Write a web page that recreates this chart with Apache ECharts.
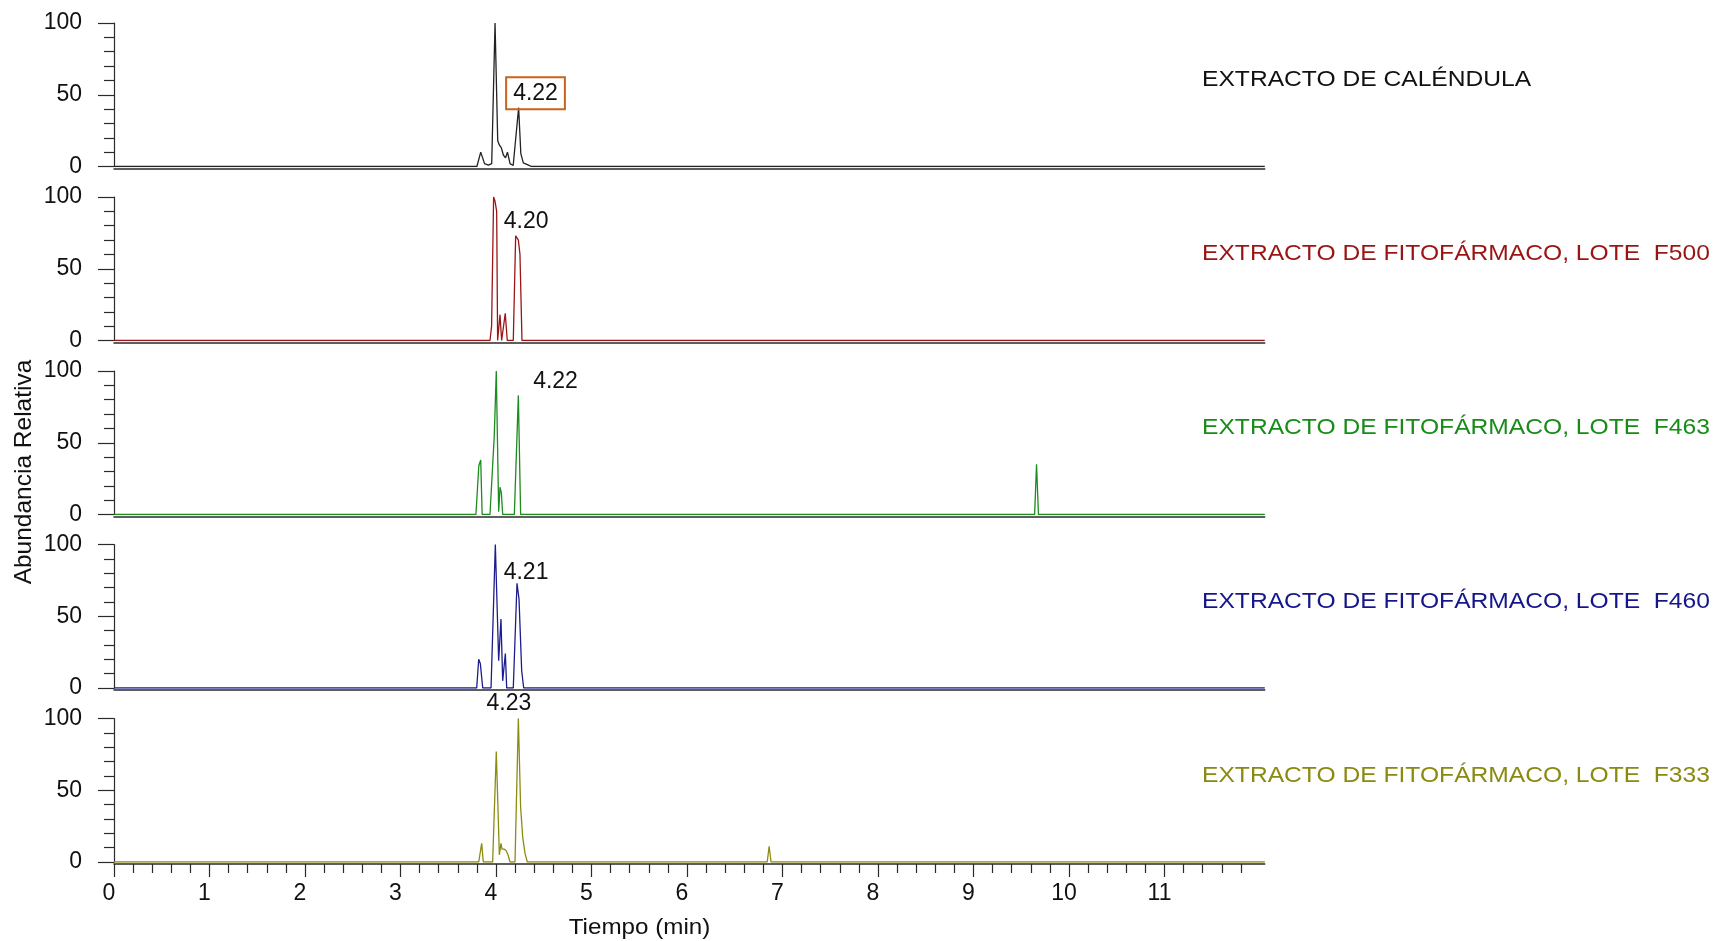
<!DOCTYPE html>
<html>
<head>
<meta charset="utf-8">
<script src="https://cdn.jsdelivr.net/npm/echarts@6/dist/echarts.min.js"></script>
<style>
html,body{margin:0;padding:0;background:#ffffff;}
#chart{width:1717px;height:941px;}
</style>
</head>
<body>
<div id="chart"></div>
<script>
// ---------------- DATA ----------------
const sampleNames = [
  'EXTRACTO DE CALÉNDULA',
  'EXTRACTO DE FITOFÁRMACO, LOTE  F500',
  'EXTRACTO DE FITOFÁRMACO, LOTE  F463',
  'EXTRACTO DE FITOFÁRMACO, LOTE  F460',
  'EXTRACTO DE FITOFÁRMACO, LOTE  F333'
];
// [tiempo (min), abundancia relativa (%)]
const calendula = [[0,0],[3.80,0],[3.84,10],[3.88,2],[3.92,1],[3.955,2],[3.99,100],[4.018,18],[4.035,15],[4.056,13],[4.077,8],[4.10,6],[4.12,10],[4.147,2],[4.18,0.7],[4.237,41],[4.26,9],[4.286,2.5],[4.34,1],[4.37,0],[12.05,0]];
const loteF500 = [[0,0],[3.937,0],[3.954,10],[3.975,100],[3.99,97],[4.007,90],[4.017,0],[4.042,18],[4.059,0],[4.097,19],[4.118,0],[4.181,0],[4.206,73],[4.22,72],[4.234,70],[4.251,60],[4.272,0],[12.05,0]];
const loteF463 = [[0,0],[3.79,0],[3.82,34],[3.84,38],[3.855,0],[3.937,0],[3.982,55],[4.003,100],[4.028,2],[4.042,19],[4.056,15],[4.07,0],[4.192,0],[4.234,83],[4.258,0],[9.64,0],[9.66,35],[9.68,0],[12.05,0]];
const loteF460 = [[0,0],[3.798,0],[3.819,20],[3.836,17],[3.861,0],[3.948,0],[3.993,100],[4.028,19],[4.052,48],[4.07,5],[4.098,24],[4.112,0],[4.181,0],[4.22,73],[4.241,62],[4.269,12],[4.29,0],[12.05,0]];
const loteF333 = [[0,0],[3.819,0],[3.85,13],[3.867,0],[3.965,0],[4.003,77],[4.035,5],[4.052,13],[4.063,9],[4.084,9],[4.105,8],[4.126,5],[4.147,0],[4.199,0],[4.234,100],[4.258,38],[4.28,17],[4.304,6],[4.328,0],[6.84,0],[6.86,11],[6.88,0],[12.05,0]];
const peakRT = [4.22, 4.20, 4.22, 4.21, 4.23];
const peakHeight = [41, 73, 83, 73, 100];
const xTickValues = [0, 1, 2, 3, 4, 5, 6, 7, 8, 9, 10, 11];
const xAxisTitle = 'Tiempo (min)';
const yAxisTitle = 'Abundancia Relativa';

// ---------------- STYLE / LAYOUT ----------------
const traces = [calendula, loteF500, loteF463, loteF460, loteF333];
const FONT = '"Liberation Sans", Arial, sans-serif';
const traceColors = ['#222222', '#9a1616', '#1c8c1c', '#1c1c8c', '#8c8c12'];
const nameColors  = ['#111111', '#9a1414', '#188c18', '#16168c', '#8a8a10'];
const AX = '#2a2a2a';
const tops = [23, 197, 371, 544.5, 718.5];
const H = 143.5, LEFT = 114, PXMIN = 95.5, XMAX = 12.05;
const W = PXMIN * XMAX;
const labelOffsets = [[18.5,-14.4],[11,-14],[38.5,-14],[10,-11],[-9,-14.6]];

const grids = tops.map(t => ({left: LEFT, top: t, width: W, height: H, containLabel: false}));

const xAxes = tops.map((t, i) => ({
  gridIndex: i, type: 'value', min: 0, max: XMAX, interval: 1, offset: 2,
  axisLine: {show: true, onZero: false, lineStyle: {color: AX, width: 1.5}},
  axisTick: {show: i === 4, length: 13, customValues: xTickValues, lineStyle: {color: AX, width: 1.2}},
  minorTick: {show: i === 4, splitNumber: 5, length: 9, lineStyle: {color: AX, width: 1.2}},
  axisLabel: {show: i === 4, fontSize: 23, fontFamily: FONT, color: '#111', margin: 18,
              customValues: xTickValues, showMaxLabel: true, padding: [0, 10, 0, 0]},
  splitLine: {show: false}
}));

const yAxes = tops.map((t, i) => ({
  gridIndex: i, type: 'value', min: 0, max: 100, interval: 50,
  axisLine: {show: true, lineStyle: {color: AX, width: 1.2}},
  axisTick: {show: true, length: 16, lineStyle: {color: AX, width: 1.2}},
  minorTick: {show: true, splitNumber: 5, length: 10, lineStyle: {color: AX, width: 1.2}},
  axisLabel: {fontSize: 23, fontFamily: FONT, color: '#111', margin: 32},
  splitLine: {show: false}
}));

const series = traces.map((d, i) => ({
  type: 'line', name: sampleNames[i], xAxisIndex: i, yAxisIndex: i, data: d,
  showSymbol: false, symbol: 'none', animation: false,
  lineStyle: {color: traceColors[i], width: 1.3},
  itemStyle: {color: traceColors[i]},
  markPoint: {
    symbol: 'circle', symbolSize: 0, silent: true, animation: false,
    data: [{coord: [peakRT[i], peakHeight[i]]}],
    label: Object.assign({
      show: true, position: 'inside', offset: labelOffsets[i],
      formatter: peakRT[i].toFixed(2), color: '#111', fontSize: 23, fontFamily: FONT
    }, i === 0 ? {borderColor: '#c8641e', borderWidth: 2, padding: [5, 7, 4, 7], lineHeight: 23} : {})
  }
}));

const graphics = sampleNames.map((n, i) => ({
  type: 'text', x: 1202, y: tops[i] + 57.5, scaleX: 1.145, silent: true,
  style: {text: n, fill: nameColors[i], fontSize: 21.5, fontFamily: FONT,
          textAlign: 'left', textVerticalAlign: 'middle', align: 'left', verticalAlign: 'middle'}
}));
graphics.push({
  type: 'text', x: 639.5, y: 928, scaleX: 1.1, silent: true,
  style: {text: xAxisTitle, fill: '#111', fontSize: 22, fontFamily: FONT,
          textAlign: 'center', textVerticalAlign: 'middle', align: 'center', verticalAlign: 'middle'}
});
graphics.push({
  type: 'text', x: 24, y: 472, rotation: Math.PI / 2, silent: true,
  style: {text: yAxisTitle, fill: '#111', fontSize: 24.5, fontFamily: FONT,
          textAlign: 'center', textVerticalAlign: 'middle', align: 'center', verticalAlign: 'middle'}
});

const chart = echarts.init(document.getElementById('chart'), null, {renderer: 'canvas'});
chart.setOption({
  backgroundColor: '#ffffff',
  animation: false,
  grid: grids,
  xAxis: xAxes,
  yAxis: yAxes,
  series: series,
  graphic: graphics
});
</script>
</body>
</html>
